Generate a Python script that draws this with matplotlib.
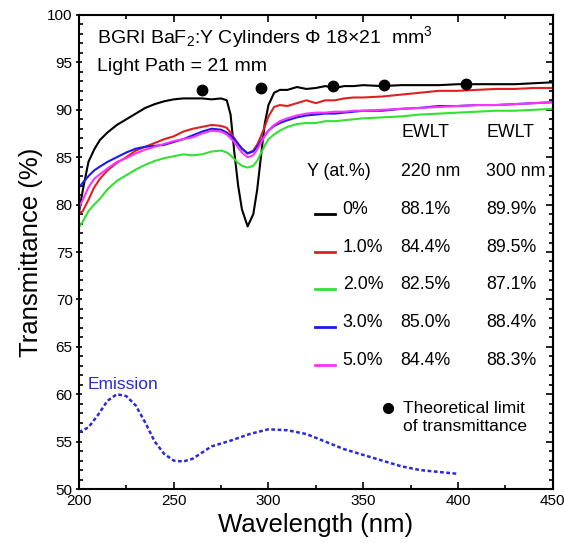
import matplotlib
matplotlib.use("Agg")
import matplotlib.pyplot as plt
from matplotlib.ticker import MultipleLocator, NullFormatter

plt.rcParams['font.family'] = ['Liberation Sans', 'DejaVu Sans']
plt.rcParams['mathtext.fontset'] = 'custom'
plt.rcParams['mathtext.rm'] = 'Liberation Sans'
plt.rcParams['mathtext.it'] = 'Liberation Sans:italic'

# wavelength grid (nm)
wl = [200, 202, 205, 208, 211, 215, 220, 225, 230, 235, 240, 245, 250, 255, 260, 265,
      270, 275, 278, 280, 282, 284, 286, 289, 292, 294, 296, 298, 300, 303, 306, 310,
      315, 320, 325, 330, 335, 340, 345, 350, 360, 370, 380, 390, 400, 410, 420, 430,
      440, 450]

t_0 = [79.2, 81.5, 84.5, 85.8, 86.8, 87.6, 88.4, 89.0, 89.6, 90.2, 90.6, 90.9, 91.1, 91.2,
       91.2, 91.2, 91.1, 91.2, 91.0, 89.5, 85.5, 82.0, 79.5, 77.7, 79.0, 81.5, 85.0, 88.5,
       90.5, 91.8, 92.1, 92.1, 92.4, 92.2, 92.3, 92.5, 92.3, 92.5, 92.5, 92.6, 92.5, 92.6,
       92.6, 92.6, 92.7, 92.7, 92.7, 92.7, 92.8, 92.9]

t_1 = [79.1, 79.3, 80.5, 81.8, 82.7, 83.6, 84.4, 85.0, 85.7, 86.1, 86.5, 86.9, 87.2, 87.7,
       88.0, 88.2, 88.4, 88.3, 88.1, 87.6, 87.0, 86.4, 85.9, 85.4, 85.7, 86.3, 87.2, 88.2,
       89.3, 90.3, 90.5, 90.4, 90.7, 91.0, 90.7, 91.0, 91.0, 91.2, 91.3, 91.3, 91.4, 91.6,
       91.8, 92.0, 92.0, 92.1, 92.2, 92.2, 92.3, 92.3]

t_2 = [77.6, 78.2, 79.3, 80.0, 80.6, 81.6, 82.5, 83.1, 83.7, 84.2, 84.6, 84.9, 85.1, 85.3,
       85.2, 85.3, 85.6, 85.7, 85.5, 85.2, 84.8, 84.4, 84.1, 83.9, 84.1, 84.6, 85.4, 86.2,
       86.9, 87.4, 87.8, 88.2, 88.5, 88.6, 88.6, 88.8, 88.8, 88.9, 89.0, 89.1, 89.2, 89.3,
       89.5, 89.6, 89.7, 89.8, 89.9, 89.9, 90.0, 90.1]

t_3 = [81.8, 82.3, 83.0, 83.6, 84.0, 84.5, 85.0, 85.5, 85.9, 86.1, 86.2, 86.3, 86.6, 86.9,
       87.3, 87.7, 88.0, 87.9, 87.6, 87.3, 86.9, 86.4, 85.9, 85.4, 85.6, 86.1, 86.7, 87.3,
       87.8, 88.3, 88.6, 88.9, 89.2, 89.4, 89.5, 89.6, 89.6, 89.7, 89.8, 89.9, 89.9, 90.1,
       90.2, 90.4, 90.4, 90.5, 90.5, 90.6, 90.7, 90.8]

t_5 = [79.7, 80.5, 81.8, 82.7, 83.2, 83.8, 84.5, 84.9, 85.4, 85.8, 86.1, 86.4, 86.7, 86.9,
       87.1, 87.5, 87.8, 87.7, 87.4, 87.0, 86.6, 86.0, 85.5, 85.0, 85.2, 85.8, 86.5, 87.2,
       87.8, 88.4, 88.8, 89.1, 89.4, 89.6, 89.7, 89.7, 89.8, 89.8, 89.9, 89.9, 90.0, 90.1,
       90.2, 90.3, 90.4, 90.5, 90.5, 90.6, 90.7, 90.8]

# theoretical limit points
lim_wl = [265, 296, 334, 361, 404]
lim_t = [92.1, 92.3, 92.5, 92.6, 92.7]

# emission spectrum (arbitrary scale, drawn in the 50-60 band)
em_wl = [200, 205, 210, 215, 220, 225, 230, 235, 240, 245, 250, 255, 260, 270, 280, 290,
         300, 310, 320, 330, 340, 350, 360, 370, 380, 390, 400]
em_v = [56.0, 56.5, 57.8, 59.3, 60.0, 59.8, 58.8, 57.0, 55.0, 53.7, 53.0, 52.9, 53.2, 54.5,
        55.1, 55.8, 56.3, 56.2, 55.8, 55.0, 54.2, 53.6, 53.0, 52.4, 52.0, 51.8, 51.6]

labels = ['0%', '1.0%', '2.0%', '3.0%', '5.0%']
ewlt_220 = ['88.1%', '84.4%', '82.5%', '85.0%', '84.4%']
ewlt_300 = ['89.9%', '89.5%', '87.1%', '88.4%', '88.3%']
colors = ['black', '#e02020', '#33e033', '#1a1aee', '#ff33ff']
series = [t_0, t_1, t_2, t_3, t_5]

fig = plt.figure(figsize=(5.64, 5.43), dpi=100)
ax = fig.add_axes([0.140, 0.0994, 0.840, 0.873])

for s, c in zip(series, colors):
    ax.plot(wl, s, color=c, lw=1.5)

ax.plot(lim_wl, lim_t, 'o', color='black', ms=7.5)
ax.plot(em_wl, em_v, color='#2a2ad8', lw=1.8, linestyle=(0, (1.5, 1.0)))

ax.set_xlim(200, 450)
ax.set_ylim(50, 100)
ax.xaxis.set_major_locator(MultipleLocator(50))
ax.xaxis.set_minor_locator(MultipleLocator(25))
ax.yaxis.set_major_locator(MultipleLocator(5))
ax.yaxis.set_minor_locator(MultipleLocator(1))
ax.tick_params(which='both', direction='in', top=True, right=False, labelsize=11, width=1.2)
ax.tick_params(axis='y', which='major', direction='inout', length=5, pad=2)
ax.tick_params(axis='x', which='major', length=5)
ax.tick_params(which='minor', length=3)

# right side ticks point inward
ry = ax.secondary_yaxis('right')
ry.yaxis.set_major_locator(MultipleLocator(5))
ry.yaxis.set_minor_locator(MultipleLocator(1))
ry.yaxis.set_major_formatter(NullFormatter())
ry.tick_params(which='both', direction='in', width=1.2)
ry.tick_params(which='major', length=5)
ry.tick_params(which='minor', length=3)

for sp in ax.spines.values():
    sp.set_linewidth(1.5)
ry.spines['right'].set_linewidth(1.5)

ax.set_xlabel('Wavelength (nm)', fontsize=18.5, labelpad=4)
ax.set_ylabel('Transmittance (%)', fontsize=18.5, labelpad=3)

# header text
ax.text(209.5, 97.05, 'BGRI BaF$_2$:Y Cylinders Φ 18×21  mm$^3$', fontsize=14, va='baseline')
ax.text(209.5, 94.1, 'Light Path = 21 mm', fontsize=14, va='baseline')

# table legend
fs = 12.8
ax.text(370.4, 87.1, 'EWLT', fontsize=fs, va='baseline')
ax.text(415.2, 87.1, 'EWLT', fontsize=fs, va='baseline')
ax.text(320.3, 83.0, 'Y (at.%)', fontsize=fs, va='baseline')
ax.text(369.8, 83.0, '220 nm', fontsize=fs, va='baseline')
ax.text(414.7, 83.0, '300 nm', fontsize=fs, va='baseline')
rows_y = [79.0, 75.0, 71.05, 67.1, 63.1]
for y, lab, a, b, c in zip(rows_y, labels, ewlt_220, ewlt_300, colors):
    ax.plot([324.5, 335], [y, y], color=c, lw=2)
    ax.text(339.2, y, lab, fontsize=fs, va='baseline')
    ax.text(369.8, y, a, fontsize=fs, va='baseline')
    ax.text(414.7, y, b, fontsize=fs, va='baseline')

ax.plot([363], [58.5], 'o', color='black', ms=7)
ax.text(370.9, 58.0, 'Theoretical limit', fontsize=12.5, va='baseline')
ax.text(370.9, 56.15, 'of transmittance', fontsize=12.5, va='baseline')

ax.text(204.7, 60.55, 'Emission', fontsize=12.5, va='baseline', color='#2a2ad8')

fig.savefig('out.png', dpi=100)
